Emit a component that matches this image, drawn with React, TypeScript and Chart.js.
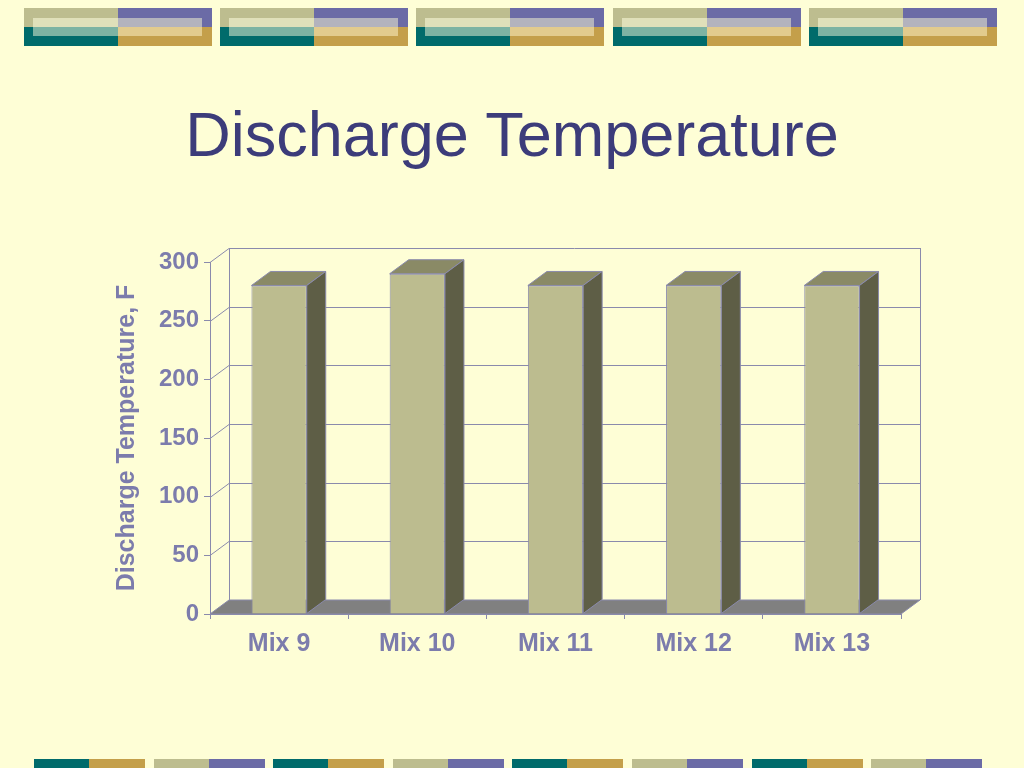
import React, { useEffect, useRef } from 'react';
import { Chart, registerables } from 'chart.js';

Chart.register(...registerables);

// ---- data ----
const categories = ['Mix 9', 'Mix 10', 'Mix 11', 'Mix 12', 'Mix 13'];
const temperatures = [280, 290, 280, 280, 280];
const yMin = 0;
const yMax = 300;
const yStep = 50;
const chartTitle = 'Discharge Temperature';
const yAxisTitle = 'Discharge Temperature, F';

// ---- styles ----
const BG = '#FEFED6';
const TITLE_COLOR = '#3C3C7A';
const LABEL_COLOR = '#7C7CAC';
const LINE_COLOR = '#8A8AAC';
const BAR_FRONT = '#BCBC8F';
const BAR_TOP = '#8A8A66';
const BAR_SIDE = '#5E5E46';
const FLOOR = '#808080';
const FONT = "'Liberation Sans', Arial, Helvetica, sans-serif";
const DX = 19;
const DY = 14;

const KHAKI = '#BDBD8F';
const PURPLE = '#6B6BA6';
const TEAL = '#006B6B';
const GOLD = '#C49F4A';
const L_KHAKI = '#E0E0BA';
const L_TEAL = '#7DB3A3';
const L_PURPLE = '#B3B3BD';
const L_GOLD = '#E2CB8D';

const depthPlugin = {
  id: 'depth3d',
  beforeDatasetsDraw(chart: any) {
    const { ctx, chartArea: a, scales } = chart;
    const y = scales.y;
    ctx.save();
    ctx.lineWidth = 1;
    ctx.strokeStyle = LINE_COLOR;
    // back wall grid lines + side wall diagonals
    y.ticks.forEach((t: any) => {
      if (t.value === yMin) return;
      const py = Math.round(y.getPixelForValue(t.value)) + 0.5;
      ctx.beginPath();
      ctx.moveTo(a.left, py);
      ctx.lineTo(a.left + DX, py - DY);
      ctx.lineTo(a.right + DX, py - DY);
      ctx.stroke();
    });
    // back wall vertical edges
    const top = Math.round(y.getPixelForValue(yMax)) - DY;
    const bot = a.bottom - DY;
    ctx.beginPath();
    ctx.moveTo(a.left + DX + 0.5, top);
    ctx.lineTo(a.left + DX + 0.5, bot);
    ctx.moveTo(a.right + DX + 0.5, top);
    ctx.lineTo(a.right + DX + 0.5, bot);
    ctx.stroke();
    // floor
    ctx.beginPath();
    ctx.moveTo(a.left, a.bottom);
    ctx.lineTo(a.left + DX, a.bottom - DY);
    ctx.lineTo(a.right + DX, a.bottom - DY);
    ctx.lineTo(a.right, a.bottom);
    ctx.closePath();
    ctx.fillStyle = FLOOR;
    ctx.fill();
    ctx.strokeStyle = LINE_COLOR;
    ctx.stroke();
    ctx.restore();
  },
  afterDatasetsDraw(chart: any) {
    const { ctx } = chart;
    const meta = chart.getDatasetMeta(0);
    ctx.save();
    ctx.lineWidth = 1;
    ctx.strokeStyle = LINE_COLOR;
    meta.data.forEach((bar: any) => {
      const { x, y, base, width } = bar.getProps(['x', 'y', 'base', 'width'], true);
      const l = x - width / 2;
      const r = x + width / 2;
      // top face
      ctx.beginPath();
      ctx.moveTo(l, y);
      ctx.lineTo(l + DX, y - DY);
      ctx.lineTo(r + DX, y - DY);
      ctx.lineTo(r, y);
      ctx.closePath();
      ctx.fillStyle = BAR_TOP;
      ctx.fill();
      ctx.stroke();
      // side face
      ctx.beginPath();
      ctx.moveTo(r, y);
      ctx.lineTo(r + DX, y - DY);
      ctx.lineTo(r + DX, base - DY);
      ctx.lineTo(r, base);
      ctx.closePath();
      ctx.fillStyle = BAR_SIDE;
      ctx.fill();
      ctx.stroke();
    });
    ctx.restore();
  },
};

function TopBand({ left }: { left: number }) {
  const half = 94;
  const box = (l: number, t: number, w: number, h: number, c: string) => (
    <div style={{ position: 'absolute', left: l, top: t, width: w, height: h, background: c }} />
  );
  return (
    <>
      {box(left, 8, half, 19, KHAKI)}
      {box(left + half, 8, half, 19, PURPLE)}
      {box(left, 27, half, 19, TEAL)}
      {box(left + half, 27, half, 19, GOLD)}
      {box(left + 9, 18, half - 9, 9, L_KHAKI)}
      {box(left + half, 18, half - 10, 9, L_PURPLE)}
      {box(left + 9, 27, half - 9, 9, L_TEAL)}
      {box(left + half, 27, half - 10, 9, L_GOLD)}
    </>
  );
}

function BottomBand({ left, kind }: { left: number; kind: number }) {
  const c1 = kind === 0 ? TEAL : KHAKI;
  const c2 = kind === 0 ? GOLD : PURPLE;
  return (
    <>
      <div style={{ position: 'absolute', left, top: 759, width: 55, height: 9, background: c1 }} />
      <div style={{ position: 'absolute', left: left + 55, top: 759, width: 56, height: 9, background: c2 }} />
    </>
  );
}

export default function App() {
  const canvasRef = useRef<HTMLCanvasElement | null>(null);

  useEffect(() => {
    if (!canvasRef.current) return;
    const chart = new Chart(canvasRef.current, {
      type: 'bar',
      data: {
        labels: categories,
        datasets: [
          {
            label: 'Discharge Temperature',
            data: temperatures,
            backgroundColor: BAR_FRONT,
            borderColor: LINE_COLOR,
            borderWidth: 1,
            categoryPercentage: 0.8,
            barPercentage: 0.5,
          },
        ],
      },
      options: {
        responsive: false,
        animation: false,
        layout: { padding: { top: 262, right: 123, left: 0, bottom: 0 } },
        font: { family: FONT },
        plugins: {
          legend: { display: false },
          tooltip: { enabled: false },
          title: { display: false },
        },
        scales: {
          x: {
            grid: {
              drawOnChartArea: false,
              drawTicks: true,
              tickLength: 5,
              color: LINE_COLOR,
              offset: true,
            },
            border: { display: true, color: LINE_COLOR, width: 1 },
            ticks: {
              color: LABEL_COLOR,
              font: { family: FONT, size: 25, weight: 'bold' },
              padding: 10,
              maxRotation: 0,
            },
            afterFit(scale: any) {
              scale.height = 154;
            },
          },
          y: {
            min: yMin,
            max: yMax,
            grid: {
              drawOnChartArea: false,
              drawTicks: true,
              tickLength: 6,
              color: LINE_COLOR,
            },
            border: { display: true, color: LINE_COLOR, width: 1 },
            ticks: {
              stepSize: yStep,
              color: LABEL_COLOR,
              font: { family: FONT, size: 24, weight: 'bold' },
              padding: 5,
            },
            title: {
              display: true,
              text: yAxisTitle,
              color: LABEL_COLOR,
              font: { family: FONT, size: 25, weight: 'bold' },
              padding: { top: 112, bottom: 0 },
            },
            afterFit(scale: any) {
              scale.width = 210;
            },
          },
        },
      },
      plugins: [depthPlugin],
    } as any);
    return () => chart.destroy();
  }, []);

  return (
    <div
      style={{
        position: 'fixed',
        left: 0,
        top: 0,
        width: 1024,
        height: 768,
        background: BG,
        overflow: 'hidden',
      }}
    >
      {[0, 1, 2, 3, 4].map((i) => (
        <TopBand key={'t' + i} left={24 + Math.round(196.2 * i)} />
      ))}
      {[0, 1, 2, 3, 4, 5, 6, 7].map((i) => (
        <BottomBand key={'b' + i} left={34 + Math.round(119.6 * i)} kind={i % 2} />
      ))}
      <div
        style={{
          position: 'absolute',
          left: 0,
          top: 97,
          width: 1024,
          textAlign: 'center',
          fontFamily: FONT,
          fontSize: 63,
          lineHeight: '74px',
          color: TITLE_COLOR,
          whiteSpace: 'nowrap',
        }}
      >
        {chartTitle}
      </div>
      <canvas
        ref={canvasRef}
        width={1024}
        height={768}
        style={{ position: 'absolute', left: 0, top: 0, width: 1024, height: 768 }}
      />
    </div>
  );
}
